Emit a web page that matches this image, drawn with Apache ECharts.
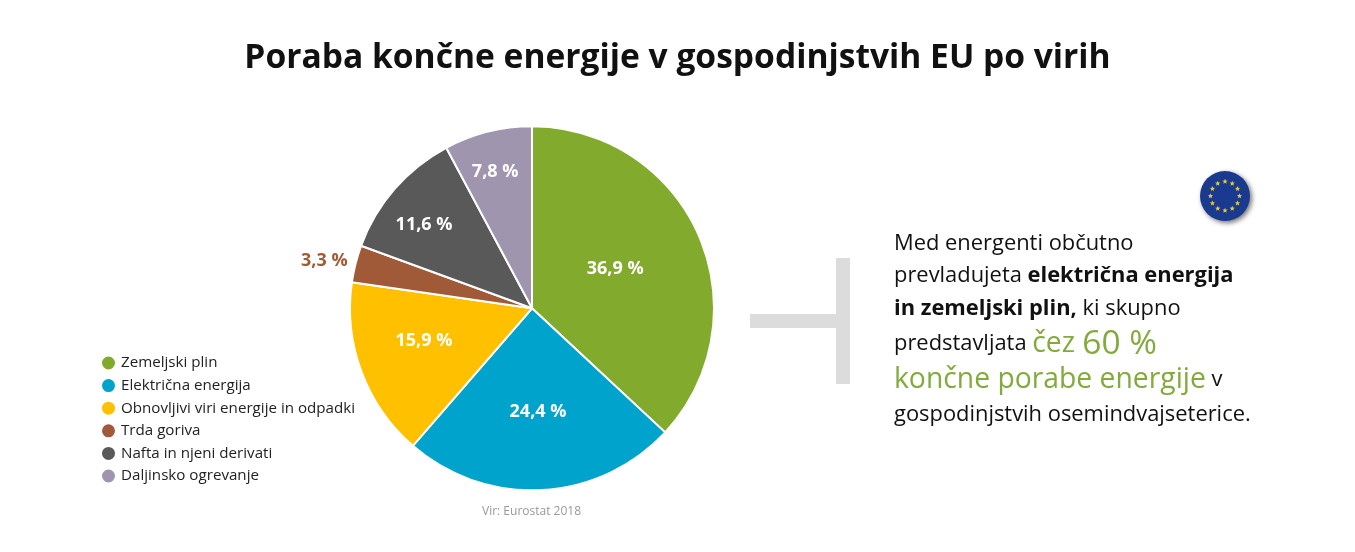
<!DOCTYPE html>
<html><head><meta charset="utf-8">
<style>html,body{margin:0;padding:0;background:#fff}#c{width:1355px;height:552px}</style>
<script src="https://cdn.jsdelivr.net/npm/echarts@6/dist/echarts.min.js"></script>
</head><body><div id="c"></div>
<script>
const categories = ['Zemeljski plin','Električna energija','Obnovljivi viri energije in odpadki','Trda goriva','Nafta in njeni derivati','Daljinsko ogrevanje'];
const values = [36.9,24.4,15.9,3.3,11.6,7.8];
const colors = ['#82aa2c','#00a3cc','#ffc000','#a05a37','#595959','#9f95ae'];
const labelOffsets = [[-3,-2],[1,10],[-20,0],[-4,-2],[-37,-22],[-14,-45]];
const FONT = '"Open Sans", sans-serif';
const chart = echarts.init(document.getElementById('c'));

function starPts(cx,cy,R,r){const p=[];for(let i=0;i<10;i++){const a=-Math.PI/2+i*Math.PI/5,q=i%2?r:R;p.push([cx+q*Math.cos(a),cy+q*Math.sin(a)]);}return p;}
const flagCx=1225, flagCy=196;
const stars=[];
for(let i=0;i<12;i++){const a=i*Math.PI/6;stars.push({type:'polygon',silent:true,shape:{points:starPts(flagCx+14.5*Math.sin(a),flagCy-14.5*Math.cos(a),2.8,1.2)},style:{fill:'#e8c93c'}});}

const rich={
 n:{fontFamily:FONT,fontSize:21.9,fill:'#111',color:'#111'},
 b:{fontFamily:FONT,fontSize:21.9,fontWeight:700,fill:'#111',color:'#111'},
 g:{fontFamily:FONT,fontSize:28.3,fill:'#82aa3c',color:'#82aa3c'},
 G:{fontFamily:FONT,fontSize:33.5,fill:'#82aa3c',color:'#82aa3c'}
};
const lines=[
 [244,'{n|Med energenti občutno}'],
 [276,'{n|prevladujeta }{b|električna energija}'],
 [309,'{b|in zemeljski plin,}{n| ki skupno}'],
 [344,'{n|predstavljata }{g|čez }{G|60 %}'],
 [380,'{g|končne porabe energije}{n| v}'],
 [415,'{n|gospodinjstvih osemindvajseterice.}']
];
const textEls=lines.map(([y,t])=>({type:'text',silent:true,left:894,top:y-24,style:{text:t,rich,font:'21.9px '+FONT,height:48,lineHeight:48,verticalAlign:'top'}}));

chart.setOption({
 animation:false,
 backgroundColor:'#fff',
 title:{text:'Poraba končne energije v gospodinjstvih EU po virih',left:672.5,top:36,textAlign:'center',
   textStyle:{fontFamily:FONT,fontSize:33.6,fontWeight:700,color:'#111'}},
 legend:{orient:'vertical',left:100,top:353.5,padding:0,icon:'circle',itemWidth:15,itemHeight:15,itemGap:3.6,selectedMode:false,
   data:categories,textStyle:{fontFamily:FONT,fontSize:15.15,color:'#222',padding:[0,0,0,0],lineHeight:19}},
 series:[{type:'pie',center:[532,308.3],radius:[0,182],startAngle:90,clockwise:true,
   avoidLabelOverlap:false,silent:true,
   itemStyle:{borderColor:'#fff',borderWidth:2},
   labelLine:{show:false},
   label:{position:'inside',formatter:p=>String(p.value).replace('.',',')+' %',fontFamily:FONT,fontSize:18,fontWeight:700,color:'#fff'},
   data:categories.map((n,i)=>({name:n,value:values[i],itemStyle:{color:colors[i]},
     label:i===3?{position:'outside',distanceToLabelLine:0,color:colors[3],offset:labelOffsets[i]}:{offset:labelOffsets[i]},
     ...(i===3?{labelLine:{show:false,length:4,length2:0}}:{})}))
 }],
 graphic:[
  {type:'text',silent:true,left:482,top:506,style:{text:'Vir: Eurostat 2018',font:'12px '+FONT,fill:'#999'}},
  {type:'rect',silent:true,shape:{x:750,y:314,width:100,height:14},style:{fill:'#dcdcdc'}},
  {type:'rect',silent:true,shape:{x:836,y:258,width:14,height:126},style:{fill:'#dcdcdc'}},
  {type:'circle',silent:true,shape:{cx:flagCx,cy:flagCy,r:25},style:{fill:'#1a3a90',shadowBlur:5,shadowColor:'rgba(0,0,0,0.55)',shadowOffsetX:2,shadowOffsetY:2}},
  ...stars,
  ...textEls
 ]
});
</script></body></html>
